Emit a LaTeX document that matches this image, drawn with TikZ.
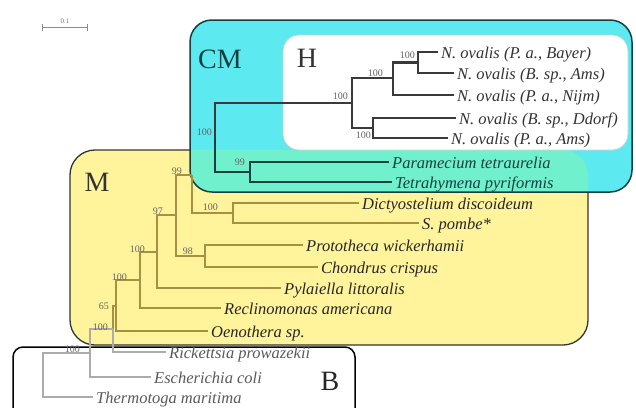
\documentclass[tikz,border=0pt]{standalone}
\usepackage{fontspec}
\setmainfont{Liberation Serif}
\usetikzlibrary{arrows.meta}
\definecolor{cmfill}{RGB}{92,234,240}
\definecolor{mfill}{RGB}{255,243,155}
\definecolor{mixfill}{RGB}{112,240,204}
\definecolor{cmline}{RGB}{22,64,64}
\definecolor{hline}{RGB}{58,58,58}
\definecolor{mline}{RGB}{165,145,65}
\definecolor{bline}{RGB}{172,172,172}
\definecolor{suppgray}{RGB}{100,100,100}

\begin{document}
\begin{tikzpicture}[x=1pt,y=-1pt,taxon/.style={anchor=west,inner sep=3pt,text height=16pt,text depth=3pt,font=\fontsize{16.5}{18}\selectfont\itshape},supp/.style={anchor=south east,inner sep=1pt,text=suppgray,font=\fontsize{10}{10}\selectfont},grp/.style={inner sep=0pt,font=\fontsize{28}{28}\selectfont},hbr/.style={draw=hline,line width=2.8pt},cbr/.style={draw=cmline,line width=2.8pt},mbr/.style={draw=mline,line width=1.1pt},bbr/.style={draw=bline,line width=1.3pt}]
\useasboundingbox (0,0) rectangle (636,407);

\coordinate (h1) at (418,62.5);\coordinate (h2) at (393,78);\coordinate (h3) at (373,128);\coordinate (h4) at (352,103);
\coordinate (c1) at (250,172);\coordinate (c0) at (215,137);
\coordinate (d1) at (233,213);\coordinate (m5) at (192,175);\coordinate (p1) at (205,256);\coordinate (m4) at (176,215);
\coordinate (m3) at (157,252);\coordinate (m2) at (140,280);\coordinate (m1) at (116,306);
\coordinate (r1) at (113,329);\coordinate (e1) at (90,353);\coordinate (o1) at (43,375);

\fill[mfill] (70,150) [rounded corners=25pt] rectangle (588,345);
\draw[line width=1.3pt,draw=black!80,rounded corners=25pt] (70,150) rectangle (588,345);
\draw[mbr](m5)|-(c0);

\fill[cmfill] (190,20) [rounded corners=22pt] rectangle (632,192);
\begin{scope}
\clip (70,150) [rounded corners=25pt] rectangle (588,345);
\fill[mixfill] (190,20) [rounded corners=22pt] rectangle (632,192);
\end{scope}
\draw[line width=1.5pt,draw=cmline,rounded corners=22pt] (190,20) rectangle (632,192);
\filldraw[fill=white,draw=cmline!25,line width=.8pt,rounded corners=16pt] (283,35) rectangle (628,150);
\draw[line width=1.5pt,rounded corners=10pt] (13,347) rectangle (355,420);

\node[taxon,text=black!80] (t1) at (438,52) {N. ovalis (P. a., Bayer)};
\node[taxon,text=black!80] (t2) at (454,73) {N. ovalis (B. sp., Ams)};
\node[taxon,text=black!80] (t3) at (454,95) {N. ovalis (P. a., Nijm)};
\node[taxon,text=black!80] (t4) at (456,118) {N. ovalis (B. sp., Ddorf)};
\node[taxon,text=black!80] (t5) at (448,138) {N. ovalis (P. a., Ams)};
\node[taxon,text=cmline] (t6) at (389,162) {Paramecium tetraurelia};
\node[taxon,text=cmline] (t7) at (392,182) {Tetrahymena pyriformis};
\node[taxon,text=black!85] (t8) at (359,203) {Dictyostelium discoideum};
\node[taxon,text=black!85] (t9) at (419,223) {S. pombe*};
\node[taxon,text=black!85] (t10) at (303,245) {Prototheca wickerhamii};
\node[taxon,text=black!85] (t11) at (318,267) {Chondrus crispus};
\node[taxon,text=black!85] (t12) at (281,288) {Pylaiella littoralis};
\node[taxon,text=black!85] (t13) at (221,308) {Reclinomonas americana};
\node[taxon,text=black!85] (t14) at (208,331) {Oenothera sp.};
\node[taxon,text=black!65] (t15) at (166,352) {Rickettsia prowazekii};
\node[taxon,text=black!65] (t16) at (151,377) {Escherichia coli};
\node[taxon,text=black!65] (t17) at (93,397) {Thermotoga maritima};

\draw[mbr](m5)|-(d1) (d1)|-(t8.west) (d1)|-(t9.west) (m4)|-(m5) (m4)|-(p1) (p1)|-(t10.west) (p1)|-(t11.west);
\draw[mbr](m3)|-(m4) (m3)|-(t12.west) (m2)|-(m3) (m2)|-(t13.west) (m1)|-(m2) (m1)|-(t14.west) (r1)|-(m1);
\draw[bbr](r1)|-(t15.west) (e1)|-(r1) (e1)|-(t16.west) (o1)|-(e1) (o1)|-(t17.west);
\draw[hbr](h1)|-(t1.west) (h1)|-(t2.west) (h2)|-(h1) (h2)|-(t3.west) (h3)|-(t4.west) (h3)|-(t5.west) (h4)|-(h2) (h4)|-(h3) (c0)|-(h4);
\draw[cbr](c1)|-(t6.west) (c1)|-(t7.west) (c0)|-(c1);

\node[supp] (s1) at (416,60) {100};
\node[supp] (s2) at (384,78) {100};
\node[supp] (s3) at (349,101) {100};
\node[supp,anchor=north east] (s4) at (372,131) {100};
\node[supp] (s5) at (213,137) {100};
\node[supp] (s6) at (246,167) {99};
\node[supp] (s7) at (183,176) {99};
\node[supp] (s8) at (219,212) {100};
\node[supp] (s9) at (194,256) {98};
\node[supp] (s10) at (164,216) {97};
\node[supp] (s11) at (146,254) {100};
\node[supp] (s12) at (128,282) {100};
\node[supp] (s13) at (110,311) {65};
\node[supp] (s14) at (109,332) {100};
\node[supp] (s15) at (81,354) {100};

\node[grp,text=cmline] (cm) at (220,59) {CM};
\node[grp,text=black!80] (hh) at (307,58) {H};
\node[grp,text=black!80] (mm) at (97,182) {M};
\node[grp,text=black!85] (bb) at (330,381) {B};

\coordinate (sl) at (42,27);\coordinate (sr) at (88,27);
\draw[draw=black!45,line width=1pt,{Bar[width=7pt]}-{Bar[width=7pt]}] (sl)--(sr) node[midway,above=3pt,inner sep=0pt,text=black!55,font=\fontsize{7}{7}\selectfont] (sc) {0.1};
\end{tikzpicture}
\end{document}
